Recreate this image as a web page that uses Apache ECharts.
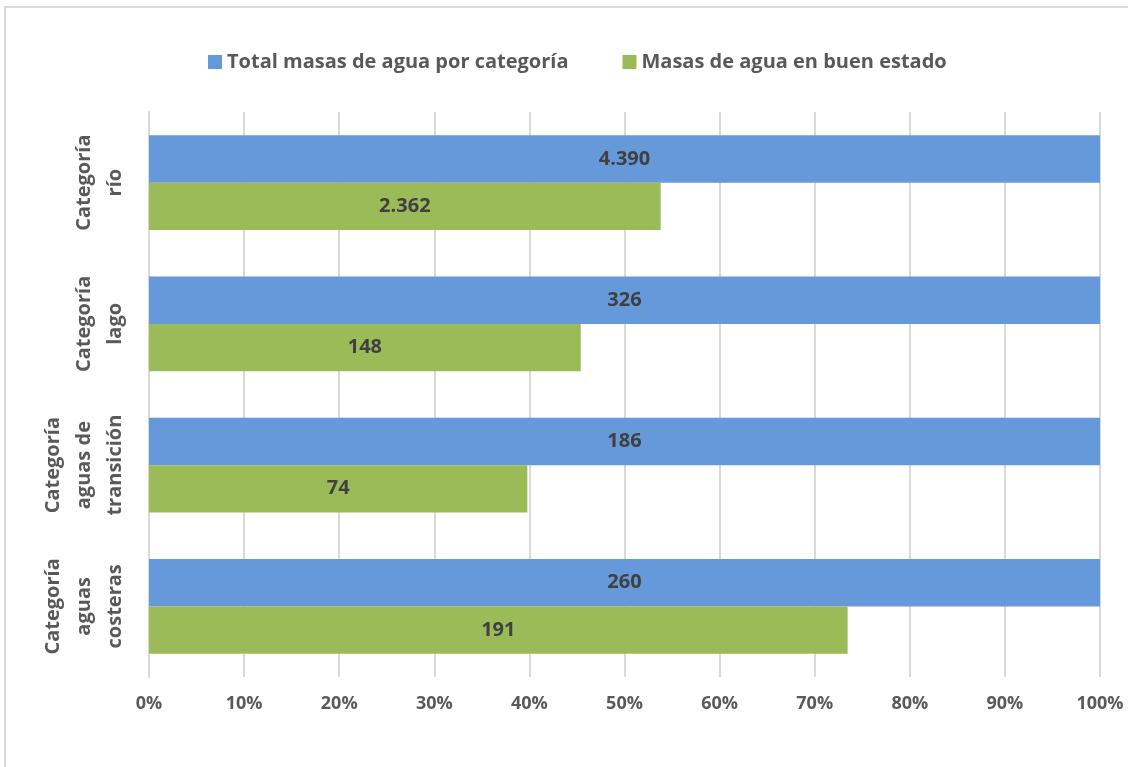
<!DOCTYPE html>
<html>
<head>
<meta charset="utf-8">
<script src="https://cdn.jsdelivr.net/npm/echarts@6/dist/echarts.min.js"></script>
<style>
  html, body { margin: 0; padding: 0; background: #fff; }
  #chart { width: 1128px; height: 767px; }
</style>
</head>
<body>
<div id="chart"></div>
<script>
// categorías (de arriba a abajo)
const categorias = ["Categoría\nrío", "Categoría\nlago", "Categoría\naguas de\ntransición", "Categoría\naguas\ncosteras"];
// total de masas de agua por categoría
const totales = [4390, 326, 186, 260];
// masas de agua en buen estado
const buenEstado = [2362, 148, 74, 191];
const ticksPct = [0, 10, 20, 30, 40, 50, 60, 70, 80, 90, 100];

const fmt = (v) => v.toLocaleString("de-DE");
const FONT = "Open Sans";

const chart = echarts.init(document.getElementById("chart"));

// cada barra se dibuja como % del total de su categoría
const datosTotal = totales.map((t) => ({ value: 100, raw: t }));
const datosBuen = buenEstado.map((b, i) => ({ value: (b / totales[i]) * 100, raw: b }));

chart.setOption({
  animation: false,
  textStyle: { fontFamily: FONT },
  graphic: [{
    type: "rect",
    shape: { x: 5, y: 7, width: 1200, height: 800 },
    style: { fill: "none", stroke: "#d9d9d9", lineWidth: 2 },
    silent: true,
    z: -10
  }],
  legend: {
    top: 47,
    left: 203,
    itemWidth: 14,
    itemHeight: 14,
    itemGap: 54,
    icon: "rect",
    textStyle: { fontSize: 20, fontWeight: "bold", color: "#595959", fontFamily: FONT }
  },
  grid: { left: 149, right: 28, top: 112, bottom: 90, containLabel: false },
  xAxis: {
    type: "value",
    min: ticksPct[0],
    max: ticksPct[ticksPct.length - 1],
    interval: 10,
    axisLine: { show: false },
    axisTick: { show: false },
    splitLine: { show: true, lineStyle: { color: "#d9d9d9", width: 2 } },
    axisLabel: {
      formatter: (v) => v + "%",
      color: "#595959",
      fontSize: 18,
      fontWeight: "bold",
      fontFamily: FONT,
      margin: 18
    }
  },
  yAxis: {
    type: "category",
    data: categorias,
    inverse: true,
    axisLine: { show: true, lineStyle: { color: "#d9d9d9", width: 2 } },
    axisTick: { show: false },
    splitLine: { show: false },
    axisLabel: {
      rotate: 90,
      color: "#595959",
      fontSize: 20,
      fontWeight: "bold",
      fontFamily: FONT,
      lineHeight: 31,
      align: "center",
      margin: 18
    }
  },
  series: [
    {
      name: "Total masas de agua por categoría",
      type: "bar",
      data: datosTotal,
      barGap: "0%",
      barCategoryGap: "33%",
      itemStyle: { color: "#6699d9" },
      label: {
        show: true,
        position: "inside",
        formatter: (p) => fmt(p.data.raw),
        color: "#404040",
        fontSize: 20,
        fontWeight: "bold",
        fontFamily: FONT
      }
    },
    {
      name: "Masas de agua en buen estado",
      type: "bar",
      data: datosBuen,
      itemStyle: { color: "#9bbb59" },
      label: {
        show: true,
        position: "inside",
        formatter: (p) => fmt(p.data.raw),
        color: "#404040",
        fontSize: 20,
        fontWeight: "bold",
        fontFamily: FONT
      }
    }
  ]
});
</script>
</body>
</html>
